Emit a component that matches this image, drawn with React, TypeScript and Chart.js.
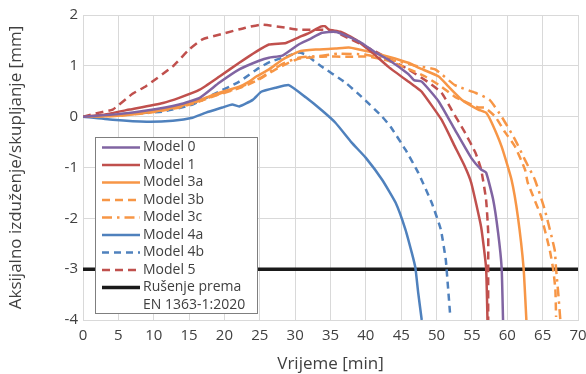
import React, { useEffect, useRef } from "react";
import { Chart, registerables } from "chart.js";

Chart.register(...registerables);

type P = [number, number];

const xTicksStep = 5;
const xMin = 0;
const xMax = 70;
const yMin = -4;
const yMax = 2;
const yStep = 1;

const labels = [
  "Model 0",
  "Model 1",
  "Model 3a",
  "Model 3b",
  "Model 3c",
  "Model 4a",
  "Model 4b",
  "Model 5",
  "Rušenje prema\nEN 1363-1:2020",
];

const model0: P[] = [
  [0, 0], [5, 0.05], [9, 0.12], [13.6, 0.24], [16.5, 0.37], [19.3, 0.67], [22.1, 0.93],
  [24.9, 1.1], [26.3, 1.16], [28.2, 1.2], [30.5, 1.42], [32, 1.52], [33.8, 1.65],
  [35.7, 1.67], [37.6, 1.57], [39.4, 1.45], [41.4, 1.26], [43.2, 1.12], [46, 0.84],
  [46.8, 0.72], [47.9, 0.69], [50.3, 0.3], [52.6, -0.26], [54.9, -0.81], [56.3, -1.04],
  [57, -1.1], [58, -1.63], [58.7, -2.28], [59.2, -2.97], [59.4, -4],
];

const model1: P[] = [
  [0, 0], [3, 0.04], [6.6, 0.14], [11.3, 0.27], [13.6, 0.37], [16.5, 0.53], [19.3, 0.79],
  [22.1, 1.06], [24.5, 1.28], [26.3, 1.42], [28.7, 1.45], [30.5, 1.56], [32, 1.65],
  [33.6, 1.77], [34.2, 1.78], [34.8, 1.71], [36.4, 1.67], [38.5, 1.52], [40.9, 1.26],
  [43.2, 0.98], [46, 0.69], [47.2, 0.57], [47.9, 0.49], [50.7, -0.06], [52.6, -0.59],
  [54, -0.98], [54.9, -1.3], [56.3, -2.17], [57, -2.97], [57.2, -4],
];

const model3a: P[] = [
  [0, 0], [5, 0.02], [9, 0.08], [13.6, 0.2], [16.5, 0.33], [19.3, 0.47], [22.1, 0.59],
  [23.5, 0.69], [24.5, 0.79], [26.3, 0.93], [28.2, 1.12], [30.5, 1.28], [32.9, 1.32],
  [35.7, 1.34], [37.6, 1.36], [40.4, 1.28], [43.2, 1.18], [46, 1.06], [47.5, 0.96],
  [50.3, 0.79], [51.7, 0.59], [53.6, 0.33], [55.9, 0.14], [57, 0.08], [57.8, -0.12],
  [59.2, -0.59], [60.6, -1.24], [61.5, -1.97], [62.3, -2.97], [62.7, -4],
];

const model3b: P[] = [
  [0, 0], [5, 0.02], [9, 0.07], [13.6, 0.18], [16.5, 0.3], [19.3, 0.44], [22.1, 0.56],
  [24.9, 0.73], [26.5, 0.87], [28.2, 1.0], [30.5, 1.14], [33.8, 1.18], [37.6, 1.18],
  [40.4, 1.18], [43.2, 1.1], [46, 0.94], [48.4, 0.79], [50.7, 0.59], [52.6, 0.39],
  [55.9, 0.18], [56.8, 0.18], [58.3, 0], [59.7, -0.31], [61.1, -0.59], [62.5, -1.04],
  [62.9, -1.3], [64.8, -1.97], [66, -2.62], [66.5, -3.01], [66.8, -3.4], [66.9, -3.94],
];

const model3c: P[] = [
  [0, 0], [5, 0.02], [9, 0.08], [13.6, 0.19], [16.5, 0.31], [19.3, 0.45], [22.1, 0.57],
  [24.9, 0.75], [26.3, 0.87], [28.2, 1.04], [30.5, 1.16], [33.8, 1.2], [36, 1.24],
  [40, 1.22], [43.2, 1.12], [44.6, 1.09], [47, 1.0], [49.8, 0.93], [52.6, 0.62],
  [55.5, 0.47], [57.5, 0.33], [59.2, 0], [61.1, -0.45], [62.5, -0.85], [63.9, -1.24],
  [65.3, -1.83], [66.7, -2.62], [66.9, -3.0], [67.2, -3.46], [67.5, -4],
];

const model4a: P[] = [
  [0, 0], [4.2, -0.06], [9, -0.1], [12.7, -0.08], [15.5, -0.02], [17.4, 0.08],
  [19.7, 0.18], [21.1, 0.24], [22.1, 0.2], [24, 0.33], [25.2, 0.49], [27.3, 0.57],
  [29.1, 0.62], [31.5, 0.38], [33.8, 0.12], [35.7, -0.12], [38, -0.51], [40, -0.81],
  [42.3, -1.24], [44.2, -1.69], [45.6, -2.22], [46.5, -2.68], [47, -2.97], [47.4, -3.46],
  [47.9, -4],
];

const model4b: P[] = [
  [0, 0], [6.6, 0.06], [11.3, 0.1], [15.5, 0.24], [18.3, 0.43], [22.1, 0.69],
  [24.9, 0.96], [26.5, 1.08], [28.7, 1.18], [30.5, 1.26], [31.5, 1.22], [33.4, 1.02],
  [37.1, 0.67], [39.4, 0.39], [42.3, 0], [43.5, -0.2], [45.6, -0.65], [47.4, -1.1],
  [49.3, -1.69], [50.6, -2.22], [51.3, -2.81], [51.4, -2.97], [51.9, -3.86],
];

const model5: P[] = [
  [0, 0], [2.3, 0.08], [4.2, 0.14], [7, 0.45], [8.9, 0.6], [12.7, 0.99], [15, 1.32],
  [16.9, 1.52], [19.7, 1.63], [23, 1.75], [25.2, 1.81], [28.7, 1.75], [30.5, 1.71],
  [33.3, 1.71], [35, 1.7], [37, 1.58], [41.4, 1.28], [46, 0.93], [48.9, 0.67],
  [50.7, 0.47], [52.1, 0.14], [54, -0.31], [55.5, -0.71], [56.3, -1.04], [57, -1.63],
  [57.3, -2.28], [57.3, -2.97], [57.3, -4],
];

const failure: P[] = [
  [0, -3], [70, -3],
];

const series: P[][] = [model0, model1, model3a, model3b, model3c, model4a, model4b, model5, failure];
const colors = ["#8064A2", "#C0504D", "#F79646", "#F79646", "#F79646", "#4F81BD", "#4F81BD", "#C0504D", "#1a1a1a"];
const dashes: number[][] = [[], [], [], [8, 5], [10, 5, 2.5, 5], [], [7, 5], [8, 5], []];
const widths = [2.5, 2.5, 2.5, 2.5, 2.5, 2.5, 2.5, 2.5, 3.5];

const FONT = "'Open Sans', 'Noto Sans', sans-serif";
const TEXT = "#404040";

const legendBox = {
  id: "legendBox",
  afterDatasetsDraw(chart: any) {
    const ctx = chart.ctx as CanvasRenderingContext2D;
    const a = chart.chartArea;
    const x0 = a.left + 12;
    const y0 = a.top + 122;
    const w = 162;
    const h = 176;
    const rowH = 17.5;
    ctx.save();
    ctx.fillStyle = "#ffffff";
    ctx.fillRect(x0, y0, w, h);
    ctx.strokeStyle = "#7f7f7f";
    ctx.lineWidth = 1;
    ctx.setLineDash([]);
    ctx.strokeRect(x0 + 0.5, y0 + 0.5, w, h);
    ctx.font = `14px ${FONT}`;
    ctx.textBaseline = "middle";
    ctx.textAlign = "left";
    chart.data.datasets.forEach((ds: any, i: number) => {
      const cy = y0 + 10.5 + i * rowH;
      ctx.strokeStyle = ds.borderColor;
      ctx.lineWidth = ds.borderWidth;
      ctx.setLineDash(ds.borderDash || []);
      ctx.beginPath();
      ctx.moveTo(x0 + 7, cy);
      ctx.lineTo(x0 + 45, cy);
      ctx.stroke();
      ctx.setLineDash([]);
      ctx.fillStyle = TEXT;
      String(ds.label).split("\n").forEach((t, j) => {
        ctx.fillText(t, x0 + 48, cy + j * rowH);
      });
    });
    ctx.restore();
  },
};

export default function App() {
  const ref = useRef<HTMLCanvasElement>(null);
  useEffect(() => {
    if (!ref.current) return;
    const chart = new Chart(ref.current, {
      type: "line",
      data: {
        datasets: series.map((s, i) => ({
          label: labels[i],
          data: s.map(([x, y]) => ({ x, y })),
          borderColor: colors[i],
          backgroundColor: colors[i],
          borderWidth: widths[i],
          borderDash: dashes[i],
          pointRadius: 0,
          tension: 0.15,
          fill: false,
        })),
      },
      options: {
        animation: false,
        responsive: false,
        layout: { padding: { top: 15, right: 8, left: 0, bottom: 0 } },
        plugins: { legend: { display: false }, tooltip: { enabled: false } },
        scales: {
          x: {
            type: "linear",
            min: xMin,
            max: xMax,
            ticks: { stepSize: xTicksStep, color: TEXT, font: { family: FONT, size: 15 }, padding: 7, maxRotation: 0 },
            grid: { color: "#d9d9d9", lineWidth: 1, drawTicks: false },
            border: { color: "#d9d9d9" },
            title: { display: true, text: "Vrijeme [min]", color: TEXT, font: { family: FONT, size: 17 }, padding: { top: 0, bottom: 0 } },
            afterFit: (s: any) => {
              s.height = 54;
              s.paddingLeft = 0;
              s.paddingRight = 0;
            },
          },
          y: {
            min: yMin,
            max: yMax,
            ticks: { stepSize: yStep, color: TEXT, font: { family: FONT, size: 15 }, padding: 5 },
            grid: { color: "#d9d9d9", lineWidth: 1, drawTicks: false },
            border: { color: "#d9d9d9" },
            title: { display: true, text: "Aksijalno izduženje/skupljanje [mm]", color: TEXT, font: { family: FONT, size: 17 }, padding: { top: 6, bottom: 0 } },
            afterFit: (s: any) => {
              s.width = 83;
              s.paddingTop = 0;
              s.paddingBottom = 0;
            },
          },
        },
      },
      plugins: [legendBox],
    });
    return () => chart.destroy();
  }, []);
  return (
    <div style={{ position: "absolute", left: 0, top: 0, width: 586, height: 374, background: "#fff" }}>
      <canvas ref={ref} width={586} height={374} style={{ display: "block" }} />
    </div>
  );
}
